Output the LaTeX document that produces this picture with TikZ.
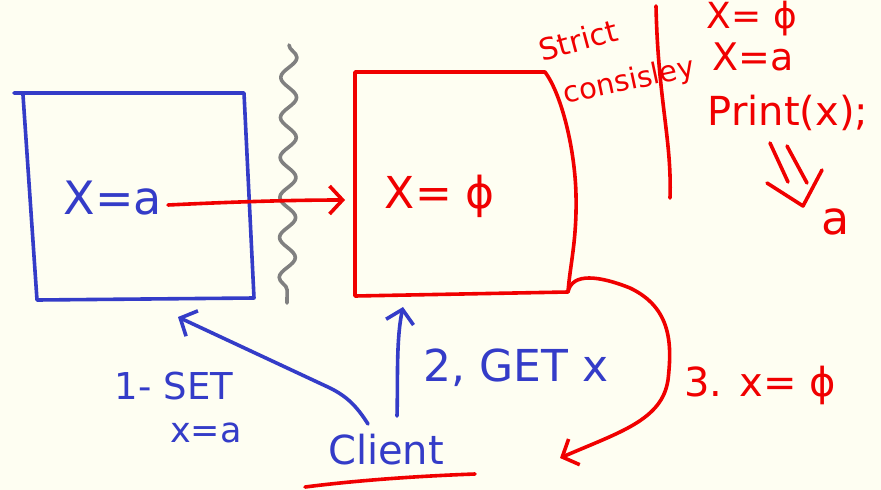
\documentclass[tikz,border=0pt]{standalone}
\usepackage{fontspec}
\setmainfont{DejaVu Sans}
\usetikzlibrary{arrows.meta,decorations.pathmorphing}
\definecolor{bg}{RGB}{254,254,242}
\definecolor{pen}{RGB}{52,60,200}
\definecolor{ink}{RGB}{240,0,0}
\definecolor{wave}{RGB}{128,128,128}
\begin{document}
\begin{tikzpicture}[x=1pt,y=-1pt,line cap=round,line join=round,
  stroke/.style={line width=3.6pt},
  tip/.style={-{Straight Barb[length=13pt,width=28pt,line width=3.6pt]}},
  lbl/.style={inner sep=0pt,anchor=center},
  fs/.style={font=\fontsize{#1}{#1}\selectfont}]
\fill[bg] (0,0) rectangle (881,490);
\useasboundingbox (0,0) rectangle (881,490);

% blue box
\coordinate (b1) at (14,93);
\coordinate (b2) at (244,93);
\coordinate (b3) at (254,298);
\coordinate (b4) at (37,300);
\draw[stroke,pen] (b1) -- (b2) -- (b3) -- (b4) -- (23,95);
\node[lbl,fs=46,text=pen] (xa) at (113,198) {X=a};

% gray wavy separator
\coordinate (w1) at (289,45);
\coordinate (w2) at (287,303);
\draw[stroke,wave,decorate,decoration={snake,amplitude=8pt,segment length=40pt}] (w1) -- (w2);

% red box
\coordinate (r1) at (355,72);
\coordinate (r2) at (545,72);
\coordinate (r3) at (568,292);
\coordinate (r4) at (355,296);
\coordinate (rin) at (345,200);
\draw[stroke,ink] (r4) -- (r1) -- (r2) .. controls (562,95) and (575,150) .. (576,195)
  .. controls (577,240) and (570,265) .. (r3) -- (r4);
\node[lbl,fs=44,text=ink] (xphi) at (440,196) {X= ϕ};

% replication arrow
\draw[stroke,ink,tip] (168,205) .. controls (230,202) and (290,200) .. (rin);

% client
\node[lbl,fs=40,text=pen] (client) at (386,450) {Client};
\draw[stroke,ink] (305,487) .. controls (360,480) and (420,476) .. (475,474);

% 1. SET
\coordinate (bset) at (178,317);
\draw[stroke,pen,tip] (368,424) .. controls (356,405) and (346,396) .. (330,388) -- (bset);
\node[lbl,fs=37,text=pen] (set) at (174,386) {1- SET};
\node[lbl,fs=35,text=pen] (setx) at (206,433) {x=a};

% 2. GET
\coordinate (rget) at (403,307);
\draw[stroke,pen,tip] (397,416) .. controls (398,380) and (396,340) .. (rget);
\node[lbl,fs=44,text=pen] (get) at (516,368) {2, GET x};

% 3. response
\coordinate (cres) at (560,458);
\draw[stroke,ink,tip] (r3) .. controls (572,272) and (600,276) .. (630,288)
  .. controls (672,308) and (672,345) .. (668,380)
  .. controls (662,420) and (620,432) .. (cres);
\node[lbl,fs=40,text=ink] (res) at (760,385) {3. x= ϕ};

% strict consistency note
\node[lbl,fs=30,text=ink,rotate=15] (strict) at (578,40) {Strict};
\node[lbl,fs=29,text=ink,rotate=12] (consis) at (629,82) {consisley};
\draw[stroke,ink] (656,6) .. controls (658,100) and (672,140) .. (670,198);
\node[lbl,fs=36,text=ink] (n1) at (752,19) {X= ϕ};
\node[lbl,fs=38,text=ink] (n2) at (753,57) {X=a};
\node[lbl,fs=40,text=ink] (n3) at (788,113) {Print(x);};
% hand-drawn implies arrow
\draw[stroke,ink] (770,143) -- (788,182);
\draw[stroke,ink] (787,146) -- (807,183);
\draw[stroke,ink] (767,183) -- (803,206) -- (822,170);
\node[lbl,fs=46,text=ink] (n5) at (836,222) {a};
\end{tikzpicture}
\end{document}
